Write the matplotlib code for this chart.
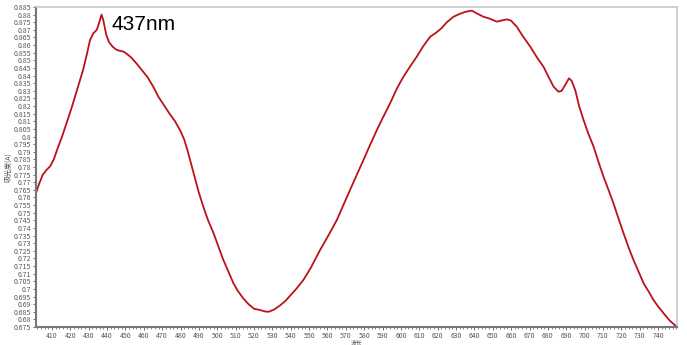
import numpy as np
import matplotlib.pyplot as plt
from matplotlib.ticker import MultipleLocator, FuncFormatter

plt.rcParams['font.family'] = ['Noto Sans CJK SC', 'DejaVu Sans']

# wavelength (nm) and absorbance
wavelength = [401.3, 403, 405, 407, 409, 411, 413, 415.5, 418, 421,
              424, 427, 429, 430.7, 432.5, 434.4, 435.5, 437, 438, 439.5,
              441, 443, 445, 447, 449, 451, 453, 456, 459, 462,
              465, 468, 471, 474, 477, 480, 482, 484, 486, 488,
              490, 492.4, 495, 498, 501, 503.3, 506, 508.8, 511, 514,
              517, 520, 523, 526, 528, 531, 534, 537, 540, 543,
              546.9, 551, 556, 560, 565.1, 569, 572.3, 576, 579.6, 583,
              586.9, 590, 594.1, 598, 601.4, 605, 608.6, 612, 615.9, 619,
              622, 625, 628.6, 632, 635, 638.6, 641, 644.9, 648, 652.2,
              655, 657.7, 660, 663.1, 666, 670.4, 674, 677.6, 680, 683.1,
              685.8, 687.5, 689.5, 691.5, 693, 695, 697, 699.4, 702, 704.9,
              707.5, 710.3, 713, 715.7, 718.5, 721.2, 724, 726.6, 729.5, 732.1,
              735, 737.5, 740, 743, 746.5, 750.2]
absorbance = [0.763, 0.769, 0.775, 0.778, 0.7805, 0.785, 0.792, 0.800, 0.809, 0.820,
              0.832, 0.844, 0.854, 0.8633, 0.8677, 0.870, 0.874, 0.880, 0.876, 0.867,
              0.862, 0.859, 0.857, 0.8562, 0.8557, 0.854, 0.852, 0.848, 0.8435, 0.839,
              0.833, 0.826, 0.8205, 0.815, 0.810, 0.8035, 0.798, 0.790, 0.781, 0.772,
              0.763, 0.754, 0.745, 0.7365, 0.7265, 0.719, 0.7115, 0.7037, 0.699, 0.694,
              0.690, 0.687, 0.6862, 0.6852, 0.685, 0.6865, 0.689, 0.692, 0.696, 0.700,
              0.7059, 0.714, 0.7256, 0.734, 0.7452, 0.756, 0.765, 0.775, 0.7846, 0.794,
              0.8043, 0.812, 0.8218, 0.832, 0.8393, 0.846, 0.8524, 0.859, 0.8655, 0.868,
              0.871, 0.875, 0.8786, 0.8805, 0.8818, 0.8826, 0.881, 0.8786, 0.8775, 0.8754,
              0.8762, 0.8769, 0.876, 0.872, 0.8665, 0.859, 0.852, 0.8458, 0.840, 0.8327,
              0.8294, 0.830, 0.834, 0.8382, 0.8365, 0.830, 0.820, 0.8109, 0.802, 0.7933,
              0.7835, 0.7736, 0.765, 0.7562, 0.746, 0.7365, 0.727, 0.719, 0.711, 0.7037,
              0.698, 0.6927, 0.6885, 0.684, 0.679, 0.6752]

x_ticks = list(range(410, 750, 10))
x_label = "波长"
y_label = "吸光度(A)"
peak_note = "437nm"

fig = plt.figure(figsize=(6.87, 3.45), dpi=100)
ax = fig.add_axes([36 / 687, 18 / 345, 641 / 687, 320 / 345])

ax.plot(wavelength, absorbance, color="#bb1219", linewidth=1.3)

ax.set_xlim(401.3, 750.3)
ax.set_ylim(0.675, 0.885)
ax.set_xticks(x_ticks)
ax.xaxis.set_minor_locator(MultipleLocator(2))
ax.yaxis.set_major_locator(MultipleLocator(0.005))
ax.yaxis.set_major_formatter(FuncFormatter(lambda v, p: "%g" % round(v, 3)))

ax.tick_params(axis="both", labelsize=5, colors="#555555", length=2, width=0.6, pad=1.5)
ax.tick_params(axis="x", which="minor", length=1.5, width=0.5, colors="#555555")

for side in ["left", "bottom"]:
    ax.spines[side].set_color("#777777")
    ax.spines[side].set_linewidth(1.5)
for side in ["top", "right"]:
    ax.spines[side].set_color("#c8c8c8")
    ax.spines[side].set_linewidth(1.2)

ax.set_xlabel(x_label, fontsize=4.2, color="#555555")
ax.xaxis.set_label_coords(0.5, -0.038)
ax.set_ylabel(y_label, fontsize=5, color="#555555", labelpad=1)

ax.text(0.118, 0.975, peak_note, transform=ax.transAxes, fontsize=15,
        family=["Liberation Sans", "DejaVu Sans"], va="top", ha="left")

fig.savefig("out.png", dpi=100)
